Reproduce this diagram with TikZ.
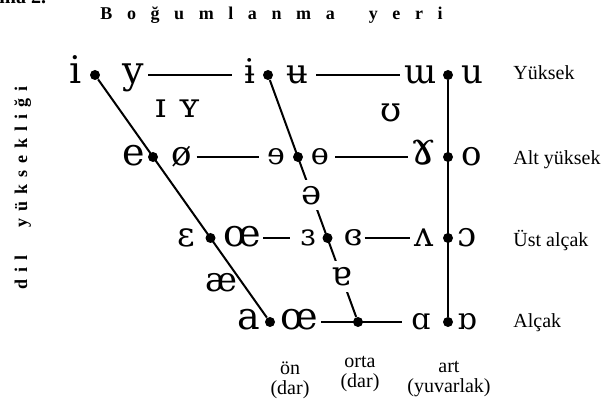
\documentclass[tikz,border=0pt]{standalone}
\usepackage{fontspec}
\setmainfont{Liberation Serif}
\newfontfamily\ipafont{DejaVu Serif}
\usepackage{tikz}
\tikzset{
  vowel/.style={font=\ipafont\fontsize{17}{17}\selectfont, inner sep=0pt, anchor=base},
  vowelbig/.style={vowel, font=\ipafont\fontsize{19}{19}\selectfont},
  vowelsmall/.style={vowel, font=\ipafont\fontsize{15}{15}\selectfont},
  dot/.style={circle, fill=black, inner sep=0pt, minimum size=5pt},
  chartline/.style={line width=1pt, draw=black},
  hline/.style={line width=0.9pt, draw=black},
  rowlabel/.style={font=\fontsize{10}{12}\selectfont, anchor=base west, inner sep=0pt},
  collabel/.style={font=\fontsize{10}{10}\selectfont, align=center, anchor=north, inner sep=0pt},
  heading/.style={font=\bfseries\fontsize{9}{9}\selectfont, inner sep=0pt},
}
\newcommand\lsp{\hspace{7.3pt}}
\newcommand\vsp{\hspace{3.5pt}}

\begin{document}
\begin{tikzpicture}[x=0.5pt, y=-0.5pt]
  \useasboundingbox (0,0) rectangle (601,401);
  % başlıklar
  \node[heading, font=\bfseries\fontsize{10}{10}\selectfont, anchor=base west] (fignum) at (-1,4) {ma 2.};
  \node[heading, anchor=base west] (place) at (100,20)
    {B\lsp o\lsp ğ\lsp u\lsp m\lsp l\lsp a\lsp n\lsp m\lsp a\hspace{17pt}y\lsp e\lsp r\lsp i};
  \node[heading, anchor=base west, rotate=90] (height) at (27,290)
    {d\vsp i\vsp l\hspace{14pt}y\vsp ü\vsp k\vsp s\vsp e\vsp k\vsp l\vsp i\vsp ğ\vsp i};
  % noktalar
  \node[dot] (f1) at (95,75) {};
  \node[dot] (f2) at (153,157) {};
  \node[dot] (f3) at (210.5,238) {};
  \node[dot] (f4) at (270,322) {};
  \node[dot] (c1) at (268,75) {};
  \node[dot] (c2) at (298,157) {};
  \node[dot] (c3) at (327.5,238) {};
  \node[dot] (c4) at (358,322) {};
  \foreach \y/\n in {75/1,157/2,238/3,322/4}
    \node[dot] (b\n) at (448,\y) {};
  % Yüksek
  \node[vowelbig] (i) at (76,84) {i};
  \node[vowelbig] (y) at (133,84) {y};
  \node[vowel] (ibar) at (249.5,84) {ɨ};
  \node[vowel] (ubar) at (297,84) {ʉ};
  \node[vowel] (ubk) at (421,84) {ɯ};
  \node[vowel] (u) at (472,84) {u};
  \node[vowel] (smallI) at (161,118) {ɪ};
  \node[vowel] (smallY) at (190,118) {ʏ};
  \node[vowel] (upsilon) at (391,122) {ʊ};
  % Alt yüksek
  \node[vowelbig] (e) at (134,166) {e};
  \node[vowel] (oslash) at (182,166) {ø};
  \node[vowelsmall] (erev) at (276,165) {ɘ};
  \node[vowelsmall] (obar) at (320,165) {ɵ};
  \node[vowel, font=\ipafont\fontsize{23}{23}\selectfont] (ramshorn) at (423,165) {ɤ};
  \node[vowel] (o) at (472,166) {o};
  % Üst alçak
  \node[vowel] (eps) at (186,247) {ɛ};
  \node[vowelbig] (oe) at (242,247) {œ};
  \node[vowelsmall] (erevrev) at (308,246) {ɜ};
  \node[vowelsmall] (eclosed) at (353,246) {ɞ};
  \node[vowel] (wedge) at (424,247) {ʌ};
  \node[vowel] (openo) at (467,247) {ɔ};
  \node[vowel] (ae) at (221,292) {æ};
  % Alçak
  \node[vowelbig] (a) at (249,330) {a};
  \node[vowelbig] (oe4) at (299,330) {œ};
  \node[vowelsmall] (alpha) at (421,329) {ɑ};
  \node[vowelsmall] (turnalpha) at (467,329) {ɒ};
  % çizgiler
  \draw[chartline] (f1) -- (f4);
  \draw[chartline] (b1) -- (b4);
  \draw[chartline] (c1)
    -- node[vowel, anchor=center, pos=.486, fill=white, inner sep=3pt] (schwa) {ə}
       node[vowel, anchor=center, pos=.83, fill=white, inner sep=3pt] (turna) {ɐ} (c4);
  \draw[hline, shorten <=2pt, shorten >=6pt] (y.east |- c1) -- (ibar.west |- c1);
  \draw[hline, shorten <=4pt, shorten >=2pt] (ubar.east |- c1) -- (ubk.west |- c1);
  \draw[hline, shorten <=2pt, shorten >=4pt] (oslash.east |- c2) -- (erev.west |- c2);
  \draw[hline, shorten <=3pt, shorten >=1pt] (obar.east |- c2) -- (ramshorn.west |- c2);
  \draw[hline, shorten <=1pt, shorten >=5pt] (oe.east |- c3) -- (erevrev.west |- c3);
  \draw[hline, shorten <=1pt, shorten >=2pt] (eclosed.east |- c3) -- (wedge.west |- c3);
  \draw[hline, shorten <=1.5pt, shorten >=4.5pt] (oe4.east |- c4) -- (alpha.west |- c4);
  % etiketler
  \node[rowlabel] (high) at (513,80) {Yüksek};
  \node[rowlabel] (midhigh) at (513,165) {Alt yüksek};
  \node[rowlabel] (midlow) at (513,247) {Üst alçak};
  \node[rowlabel] (low) at (513,328) {Alçak};
  \node[collabel] (front) at (290,361) {ön\\(dar)};
  \node[collabel] (central) at (360,356) {orta\\(dar)};
  \node[collabel] (back) at (449,361) {art\\(yuvarlak)};
\end{tikzpicture}
\end{document}
